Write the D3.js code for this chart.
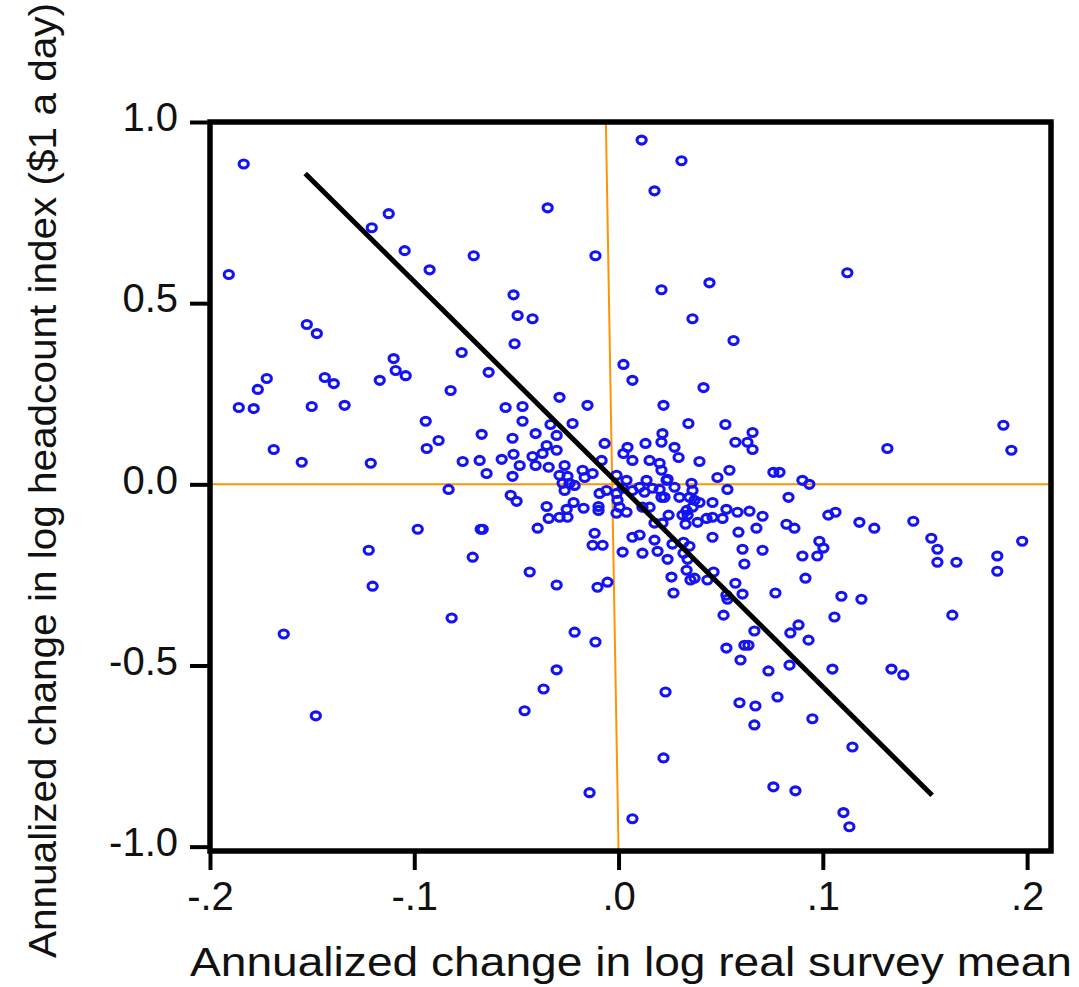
<!DOCTYPE html>
<html>
<head>
<meta charset="utf-8">
<script src="https://cdn.jsdelivr.net/npm/d3@7"></script>
<style>
  html, body { margin: 0; padding: 0; background: #fff; }
  svg { display: block; }
  text { font-family: "Liberation Sans", Arial, sans-serif; fill: #111; }
</style>
</head>
<body>
<svg id="chart" width="1079" height="987"></svg>
<script>
// Annualized change in log real survey mean (x) vs. annualized change in
// log headcount index at $1 a day (y), one point per spell.
const meanGrowth = [
  -0.1835, -0.1125, -0.1208, -0.1047, -0.0925, -0.0709, -0.1908, -0.1526, -0.1477, -0.0768,
  -0.1101, -0.1091, -0.1042, -0.1169, -0.1438, -0.1394, -0.1722, -0.1766, -0.1859, -0.1786,
  -0.1502, -0.1341, -0.0822, -0.0636, -0.0944, -0.0881, -0.0939, -0.0670, -0.1688, -0.1551,
  -0.1213, -0.0763, -0.0680, -0.0646, -0.0347, -0.0113, -0.0514, -0.0494, -0.0421, -0.0509,
  -0.0553, -0.0470, -0.0289, -0.0152, 0.0113, 0.0308, 0.0176, 0.0210, 0.0445, 0.0362,
  0.0563, 0.0024, 0.0068, 0.0416, 0.0220, 0.1120, 0.1884, 0.1923, 0.1316, 0.0758,
  0.0788, 0.0900, -0.0470, -0.0333, -0.0225, 0.0342, 0.0523, -0.0519, -0.0406, -0.0303,
  -0.0068, 0.0215, 0.0210, 0.0132, 0.0044, 0.0274, 0.0572, 0.0656, 0.0631, 0.0656,
  -0.0572, -0.0514, -0.0484, -0.0421, -0.0406, -0.0372, -0.0352, -0.0303, -0.0342, -0.0264,
  -0.0519, -0.0289, -0.0250, -0.0176, -0.0127, -0.0166, -0.0083, 0.0024, 0.0068, 0.0152,
  0.0201, 0.0210, 0.0294, 0.0396, 0.0543, 0.0484, -0.0010, 0.0039, 0.0137, 0.0240,
  0.0357, -0.0274, -0.0240, -0.0528, -0.0499, -0.0264, -0.0215, -0.0093, -0.0059, -0.0352,
  -0.0254, -0.0220, -0.0171, -0.0098, -0.0098, -0.0289, -0.0250, -0.0342, -0.0396, -0.0665,
  -0.0010, -0.0005, 0.0005, -0.0010, 0.0039, 0.0020, 0.0068, 0.0103, 0.0127, 0.0166,
  0.0210, 0.0201, 0.0235, 0.0274, 0.0298, 0.0225, 0.0152, 0.0117, 0.0362, 0.0347,
  0.0372, 0.0396, 0.0362, 0.0333, 0.0313, 0.0338, 0.0460, 0.0533, 0.0528, 0.0582,
  0.0641, 0.0705, 0.0460, 0.0431, 0.0509, 0.0387, 0.0328, 0.0245, 0.0176, 0.0215,
  -0.0117, -0.0127, -0.0078, 0.0068, 0.0103, 0.0176, 0.0264, 0.0318, 0.0347, 0.0460,
  0.0587, 0.0675, 0.0020, 0.0117, 0.0191, 0.0240, 0.0318, 0.0338, 0.0607, 0.0705,
  0.0616, -0.0435, -0.0303, -0.0103, -0.0054, 0.0259, 0.0333, 0.0352, 0.0372, 0.0435,
  0.0465, 0.0572, 0.0607, 0.0269, 0.0528, 0.0533, 0.0768, 0.1091, 0.1189, 0.1634,
  0.0514, -0.0215, -0.0113, 0.0665, 0.0841, 0.0881, 0.0930, 0.1057, 0.0528, 0.0616,
  0.0636, 0.0597, 0.0734, 0.0837, 0.1047, 0.1336, 0.1394, -0.0303, -0.0367, -0.0460,
  0.0230, 0.0592, 0.0670, 0.0778, 0.0949, 0.0665, 0.1145, 0.0220, 0.0758, 0.0866,
  0.1101, 0.1130, -0.0142, 0.0068, -0.0832, -0.0983, -0.0675, -0.1223, -0.0714, -0.1204,
  -0.0817, -0.1639, -0.1482, 0.0934, 0.0832, 0.0822, 0.0861, 0.0983, 0.1003, 0.0973,
  0.0900, 0.1027, 0.1062, 0.0915, 0.1179, 0.1252, 0.1443, 0.1531, 0.1561, 0.1561,
  0.1654, 0.1854, 0.1854, 0.1976
];
const povertyChange = [
  0.884, 0.747, 0.708, 0.645, 0.592, 0.631, 0.579, 0.441, 0.416, 0.364,
  0.347, 0.314, 0.300, 0.287, 0.295, 0.278, 0.292, 0.262, 0.212, 0.209,
  0.215, 0.218, 0.259, 0.309, 0.174, 0.121, 0.099, 0.138, 0.096, 0.061,
  0.058, 0.063, 0.066, 0.030, 0.763, 0.631, 0.523, 0.466, 0.457, 0.388,
  0.212, 0.215, 0.240, 0.218, 0.950, 0.893, 0.810, 0.537, 0.556, 0.457,
  0.397, 0.331, 0.287, 0.267, 0.218, 0.584, 0.163, 0.094, 0.099, 0.033,
  0.033, 0.011, 0.174, 0.165, 0.168, 0.168, 0.165, 0.127, 0.140, 0.135,
  0.113, 0.140, 0.116, 0.113, 0.102, 0.102, 0.116, 0.143, 0.116, 0.096,
  0.069, 0.083, 0.052, 0.077, 0.052, 0.085, 0.107, 0.094, 0.047, 0.052,
  0.022, 0.025, 0.022, 0.039, 0.030, 0.019, 0.066, 0.085, 0.066, 0.066,
  0.058, 0.039, 0.074, 0.063, 0.039, 0.019, 0.025, 0.011, 0.011, 0.014,
  0.003, 0.003, 0.003, -0.030, -0.047, -0.017, -0.003, -0.025, -0.017, -0.061,
  -0.069, -0.050, -0.066, -0.061, -0.072, -0.091, -0.091, -0.094, -0.121, -0.124,
  -0.025, -0.044, -0.063, -0.080, -0.077, -0.011, -0.017, -0.008, -0.022, -0.011,
  -0.036, -0.014, 0.011, -0.008, -0.036, -0.036, -0.063, -0.063, -0.017, -0.036,
  -0.044, -0.050, -0.063, -0.072, -0.085, -0.085, -0.050, -0.014, -0.069, -0.077,
  -0.074, -0.088, -0.091, -0.094, -0.094, -0.105, -0.110, -0.085, -0.107, -0.107,
  -0.135, -0.168, -0.168, -0.146, -0.140, -0.154, -0.165, -0.160, -0.171, -0.146,
  -0.132, -0.121, -0.187, -0.190, -0.185, -0.207, -0.190, -0.207, -0.179, -0.182,
  -0.220, -0.242, -0.278, -0.284, -0.270, -0.256, -0.237, -0.264, -0.259, -0.264,
  -0.242, -0.273, -0.303, -0.300, -0.306, -0.317, -0.300, -0.309, -0.317, -0.361,
  -0.361, -0.408, -0.435, -0.405, -0.410, -0.388, -0.430, -0.366, -0.452, -0.444,
  -0.444, -0.485, -0.515, -0.499, -0.510, -0.510, -0.526, -0.512, -0.565, -0.625,
  -0.573, -0.603, -0.612, -0.587, -0.647, -0.664, -0.725, -0.755, -0.835, -0.846,
  -0.906, -0.945, -0.851, -0.923, -0.014, -0.124, -0.124, -0.182, -0.201, -0.281,
  -0.369, -0.413, -0.639, 0.000, -0.036, -0.110, -0.121, -0.157, -0.176, -0.198,
  -0.198, -0.085, -0.077, -0.259, -0.105, -0.121, -0.102, -0.149, -0.179, -0.215,
  -0.215, -0.198, -0.240, -0.157
];

// Fitted line and the two zero reference lines (data coordinates)
const fitX = [-0.1534, 0.1535];
const fitY = [0.858, -0.858];
const zeroVX = [-0.0062, 0.0];
const zeroVY = [1.0, -1.012];
const zeroHX = [-0.2, 0.2117];
const zeroHY = [0.0, 0.0];

// Axis ticks and their labels
const xTicks = [-0.2, -0.1, 0.0, 0.1, 0.2];
const xTickLabels = ["-.2", "-.1", ".0", ".1", ".2"];
const yTicks = [1.0, 0.5, 0.0, -0.5, -1.0];
const yTickLabels = ["1.0", "0.5", "0.0", "-0.5", "-1.0"];

const xTitle = "Annualized change in log real survey mean";
const yTitle = "Annualized change in log headcount index ($1 a day)";

const svg = d3.select("#chart");
const plotLeft = 210, plotRight = 1051, plotTop = 122, plotBottom = 851;

const x = d3.scaleLinear().domain([-0.2, 0.2117]).range([plotLeft, plotRight]);
const y = d3.scaleLinear().domain([-1.012, 1.0]).range([plotBottom, plotTop]);

// Reference lines at zero
const line = d3.line().x(d => x(d[0])).y(d => y(d[1]));
svg.append("path")
  .attr("d", line(d3.zip(zeroHX, zeroHY)))
  .attr("stroke", "#ff9400").attr("stroke-width", 2).attr("fill", "none");
svg.append("path")
  .attr("d", line(d3.zip(zeroVX, zeroVY)))
  .attr("stroke", "#ff9400").attr("stroke-width", 2).attr("fill", "none");

// Scatter points
const pts = d3.zip(meanGrowth, povertyChange);
svg.append("g")
  .selectAll("ellipse")
  .data(pts)
  .join("ellipse")
  .attr("cx", d => x(d[0]))
  .attr("cy", d => y(d[1]))
  .attr("rx", 4.6)
  .attr("ry", 4.0)
  .attr("fill", "none")
  .attr("stroke", "#1414f2")
  .attr("stroke-width", 3.1);

// Fitted regression line
svg.append("path")
  .attr("d", line(d3.zip(fitX, fitY)))
  .attr("stroke", "#000").attr("stroke-width", 5).attr("fill", "none");

// Axes
const xAxis = d3.axisBottom(x)
  .tickValues(xTicks)
  .tickFormat((d, i) => xTickLabels[i])
  .tickSize(19).tickSizeOuter(0).tickPadding(12);
const gx = svg.append("g").attr("transform", `translate(0,${plotBottom})`).call(xAxis);
gx.select(".domain").remove();
gx.selectAll(".tick line").attr("stroke", "#000").attr("stroke-width", 4);
gx.selectAll(".tick text")
  .attr("font-size", 40).attr("fill", "#111")
  .attr("font-family", "Liberation Sans, Arial, sans-serif");

const yAxis = d3.axisLeft(y)
  .tickValues(yTicks)
  .tickFormat((d, i) => yTickLabels[i])
  .tickSize(20).tickSizeOuter(0).tickPadding(12);
const gy = svg.append("g").attr("transform", `translate(${plotLeft},0)`).call(yAxis);
gy.select(".domain").remove();
gy.selectAll(".tick line").attr("stroke", "#000").attr("stroke-width", 4);
gy.selectAll(".tick text")
  .attr("font-size", 40).attr("fill", "#111")
  .attr("dy", "0.22em")
  .attr("font-family", "Liberation Sans, Arial, sans-serif");

// Plot frame
svg.append("rect")
  .attr("x", plotLeft).attr("y", plotTop)
  .attr("width", plotRight - plotLeft).attr("height", plotBottom - plotTop)
  .attr("fill", "none").attr("stroke", "#000").attr("stroke-width", 5.5);

// Axis titles
svg.append("text")
  .attr("x", 190).attr("y", 976)
  .attr("font-size", 40)
  .attr("textLength", 882).attr("lengthAdjust", "spacingAndGlyphs")
  .text(xTitle);

svg.append("text")
  .attr("transform", "translate(56,958) rotate(-90)")
  .attr("font-size", 38)
  .attr("textLength", 955).attr("lengthAdjust", "spacingAndGlyphs")
  .text(yTitle);
</script>
</body>
</html>
